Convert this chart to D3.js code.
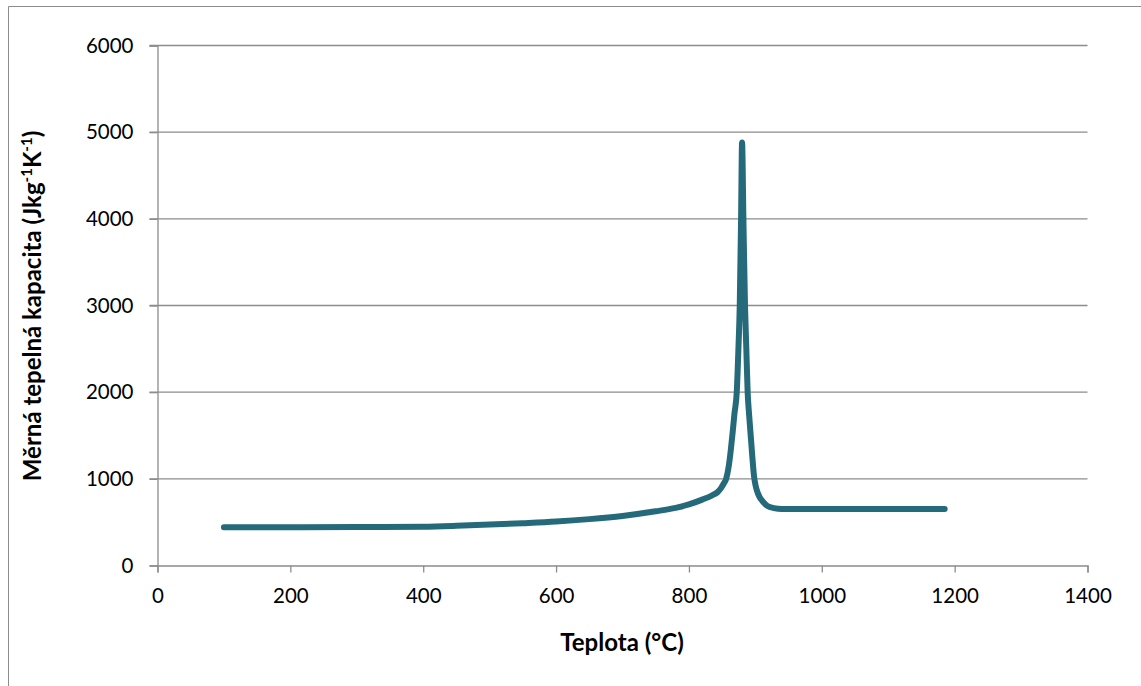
<!DOCTYPE html>
<html>
<head>
<meta charset="utf-8">
<script src="https://cdn.jsdelivr.net/npm/d3@7"></script>
<style>
  body { margin: 0; background: #fff; }
  text { font-family: Lato, 'Open Sans', sans-serif; }
</style>
</head>
<body>
<div id="chart"></div>
<script>
// temperature (°C) and specific heat capacity (J/kg/K)
var teplota = [100, 200, 300, 400, 450, 500, 550, 600, 650, 700, 750, 780, 800, 820, 835, 843, 848, 852,
               856, 860, 863, 866, 868.5, 872, 874.5, 876.5, 878.5, 880, 882, 884.4, 886.4, 888.4,
               890.5, 893, 895.5, 898, 900, 902.5, 906, 911, 918, 928, 940, 1185];
var kapacita = [440, 441, 443, 448, 458, 472, 488, 507, 535, 572, 625, 665, 705, 760, 810, 845, 890, 940,
                1000, 1150, 1330, 1550, 1750, 2000, 2500, 3000, 4000, 4880, 4000, 3000, 2500, 2000,
                1750, 1500, 1250, 1030, 935, 860, 795, 740, 688, 662, 652, 652];
var xTicks = [0, 200, 400, 600, 800, 1000, 1200, 1400];
var yTicks = [0, 1000, 2000, 3000, 4000, 5000, 6000];

var W = 1141, H = 686;
var svg = d3.select("#chart").append("svg")
    .attr("width", W)
    .attr("height", H);

// outer frame (only top and left edges visible)
svg.append("path")
    .attr("d", "M8.5," + H + "V6.5H" + W)
    .attr("fill", "none")
    .attr("stroke", "#8c8c8c")
    .attr("stroke-width", 1);

var x = d3.scaleLinear().domain([0, 1400]).range([157.5, 1087.5]);
var y = d3.scaleLinear().domain([0, 6000]).range([565.5, 45.5]);

// gridlines
svg.append("g")
    .selectAll("line")
    .data(yTicks.slice(1))
    .enter()
    .append("line")
    .attr("x1", x(0) - 8)
    .attr("x2", x(1400))
    .attr("y1", function(d) { return y(d); })
    .attr("y2", function(d) { return y(d); })
    .attr("stroke", "#8c8c8c")
    .attr("stroke-width", 1.3);

// Y axis
var yAxis = svg.append("g")
    .attr("transform", "translate(" + x(0) + ",0)")
    .call(d3.axisLeft(y).tickValues(yTicks).tickSize(8).tickPadding(16).tickFormat(d3.format("d")));
yAxis.selectAll("text")
    .style("font-size", "20.5px")
    .attr("fill", "#000");

// X axis
var xAxis = svg.append("g")
    .attr("transform", "translate(0," + y(0) + ")")
    .call(d3.axisBottom(x).tickValues(xTicks).tickSize(7).tickPadding(16).tickFormat(d3.format("d")));
xAxis.selectAll("text")
    .style("font-size", "20.5px")
    .attr("fill", "#000");

svg.selectAll(".domain, .tick line")
    .attr("stroke", "#8c8c8c")
    .attr("stroke-width", 1.3);

// x label
svg.append("text")
    .attr("text-anchor", "middle")
    .attr("x", 622)
    .attr("y", 651)
    .text("Teplota (°C)")
    .style("font-size", "24px")
    .style("font-weight", "bold");

// y label
var yl = svg.append("text")
    .attr("text-anchor", "middle")
    .attr("transform", "translate(41,306)rotate(-90)")
    .style("font-size", "24px")
    .style("font-weight", "bold");
yl.append("tspan").text("Měrná tepelná kapacita (Jkg");
yl.append("tspan").text("-1").attr("dy", -9).style("font-size", "15px");
yl.append("tspan").text("K").attr("dy", 9);
yl.append("tspan").text("-1").attr("dy", -9).style("font-size", "15px");
yl.append("tspan").text(")").attr("dy", 9);

// curve
var line = d3.line()
    .x(function(d, i) { return x(teplota[i]); })
    .y(function(d) { return y(d); })
    .curve(d3.curveMonotoneX);

svg.append("path")
    .datum(kapacita)
    .attr("d", line)
    .attr("fill", "none")
    .attr("stroke", "#256a7a")
    .attr("stroke-width", 6)
    .attr("stroke-linecap", "round")
    .attr("stroke-linejoin", "round");
</script>
</body>
</html>
